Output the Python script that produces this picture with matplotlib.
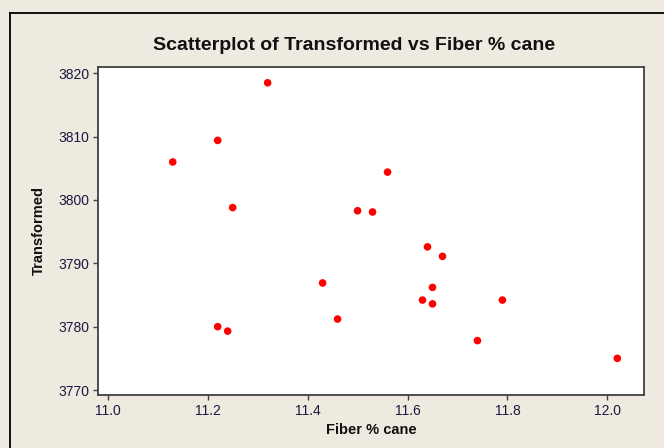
import matplotlib
matplotlib.use("Agg")
import matplotlib.pyplot as plt
from matplotlib.lines import Line2D

fiber = [11.32, 11.22, 11.13, 11.25, 11.22, 11.24, 11.56, 11.50, 11.53, 11.64,
         11.67, 11.43, 11.65, 11.63, 11.65, 11.46, 11.74, 11.79, 12.02]
transformed = [3818.5, 3809.4, 3806.0, 3798.8, 3780.0, 3779.3, 3804.4, 3798.3, 3798.1, 3792.6,
               3791.1, 3786.9, 3786.2, 3784.2, 3783.6, 3781.2, 3777.8, 3784.2, 3775.0]
xticks = [11.0, 11.2, 11.4, 11.6, 11.8, 12.0]
yticks = [3770, 3780, 3790, 3800, 3810, 3820]

W, H = 664, 448
bg = "#EEEAE0"
fig = plt.figure(figsize=(W / 100, H / 100), dpi=100, facecolor=bg)
plt.rcParams['font.family'] = ['Liberation Sans', 'DejaVu Sans']

L, R, T, B = 98.3, 644.3, 66.7, 394.7
ax = fig.add_axes([L / W, 1 - B / H, (R - L) / W, (B - T) / H])
ax.set_facecolor("white")
ax.scatter(fiber, transformed, s=30, color="#FF0000", edgecolors="none", zorder=3)

ax.set_xlim(10.981, 12.074)
ax.set_ylim(3769.26, 3821.04)
ax.set_xticks(xticks)
ax.set_xticklabels([f"{v:.1f}" for v in xticks])
ax.set_yticks(yticks)
ax.set_yticklabels([str(v) for v in yticks])
ax.tick_params(direction="out", length=3.5, width=1.0, color="#404040",
               labelsize=10, labelcolor="#1a1a40", pad=3)
for sp in ax.spines.values():
    sp.set_color("#404040")
    sp.set_linewidth(1.3)

ax.set_xlabel("Fiber % cane", fontsize=10.5, fontweight="bold", labelpad=4, color="#111111")
ax.set_ylabel("Transformed", fontsize=10.5, fontweight="bold", labelpad=9, color="#111111")

fig.text(354 / W, 1 - 45 / H, "Scatterplot of Transformed vs Fiber % cane",
         ha="center", va="center", fontsize=14, fontweight="bold", color="#111111")

# outer frame
fig.add_artist(Line2D([10 / W, 1.0], [1 - 13 / H, 1 - 13 / H], transform=fig.transFigure,
                      color="black", linewidth=1.3))
fig.add_artist(Line2D([10 / W, 10 / W], [1 - 13 / H, 0.0], transform=fig.transFigure,
                      color="black", linewidth=1.3))

fig.savefig("out.png", dpi=100, facecolor=bg)
